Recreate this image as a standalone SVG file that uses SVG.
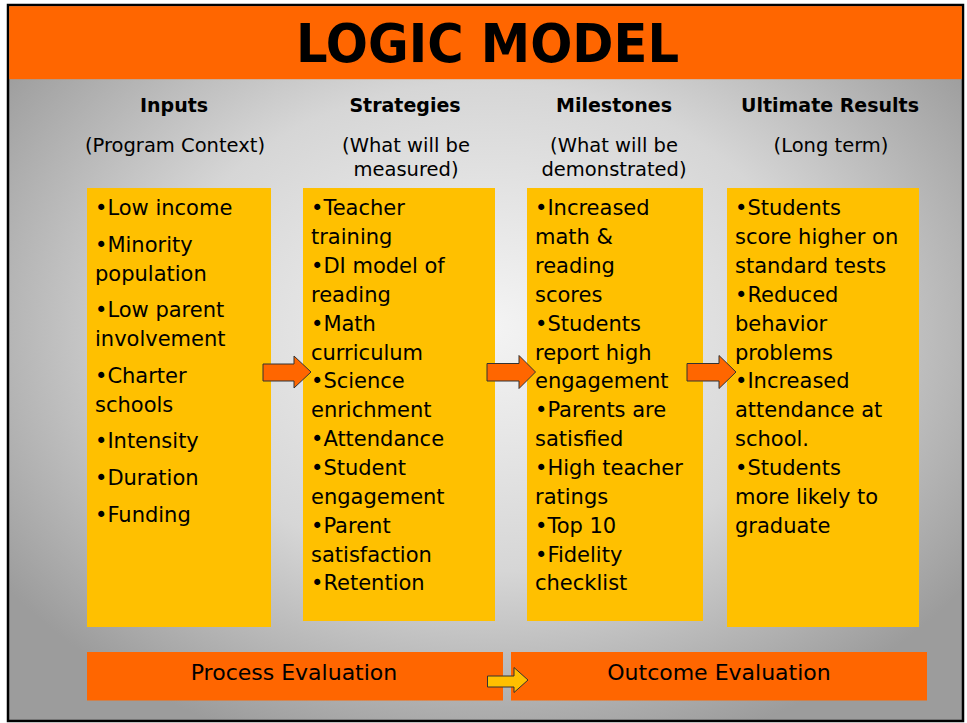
<svg xmlns="http://www.w3.org/2000/svg" width="967" height="723" viewBox="0 0 967 723">
  <defs>
    <radialGradient id="bg" cx="50%" cy="45%" r="62%">
      <stop offset="0" stop-color="#f4f4f4"/>
      <stop offset="0.55" stop-color="#d6d6d6"/>
      <stop offset="1" stop-color="#9c9c9c"/>
    </radialGradient>
  </defs>
  <style>
    .hdr { font-family: "DejaVu Sans", sans-serif; font-weight: bold; font-size: 19px; fill: #000; text-anchor: middle; }
    .sub { font-family: "DejaVu Sans", sans-serif; font-size: 19.5px; fill: #000; text-anchor: middle; }
    .body { font-family: "DejaVu Sans", sans-serif; font-size: 21px; fill: #000; }
    .box { fill: #FFC000; }
    .eval { fill: #FF6600; }
    .evtxt { font-family: "DejaVu Sans", sans-serif; font-size: 22px; fill: #000; text-anchor: middle; }
    .arrow { fill: #FF6600; stroke: #333; stroke-width: 1; }
    .arrowY { fill: #FFC000; stroke: #333; stroke-width: 1; }
  </style>

  <rect x="8" y="5" width="955" height="716" fill="url(#bg)" stroke="#000" stroke-width="2.5"/>

  <g id="title">
    <rect x="9.2" y="6.2" width="952.6" height="73" fill="#FF6600"/>
    <text x="487.5" y="61.5" font-family="DejaVu Sans, sans-serif" font-weight="bold" font-size="54" text-anchor="middle" textLength="383" lengthAdjust="spacingAndGlyphs">LOGIC MODEL</text>
  </g>

  <g id="inputs">
    <text class="hdr" x="174" y="111.5">Inputs</text>
    <text class="sub" x="175" y="151.5">(Program Context)</text>
    <rect class="box" x="87" y="188" width="184" height="439"/>
    <text class="body" x="95">
      <tspan x="95" y="215">•Low income</tspan>
      <tspan x="95" y="251.5">•Minority</tspan>
      <tspan x="95" y="280.5">population</tspan>
      <tspan x="95" y="317">•Low parent</tspan>
      <tspan x="95" y="346">involvement</tspan>
      <tspan x="95" y="382.5">•Charter</tspan>
      <tspan x="95" y="411.5">schools</tspan>
      <tspan x="95" y="448">•Intensity</tspan>
      <tspan x="95" y="485">•Duration</tspan>
      <tspan x="95" y="521.5">•Funding</tspan>
    </text>
  </g>

  <g id="strategies">
    <text class="hdr" x="405" y="111.5">Strategies</text>
    <text class="sub" x="406" y="151.5">(What will be</text>
    <text class="sub" x="406" y="176">measured)</text>
    <rect class="box" x="303" y="188" width="192" height="433"/>
    <text class="body">
      <tspan x="311" y="215">•Teacher</tspan>
      <tspan x="311" y="244">training</tspan>
      <tspan x="311" y="273">•DI model of</tspan>
      <tspan x="311" y="302">reading</tspan>
      <tspan x="311" y="330.5">•Math</tspan>
      <tspan x="311" y="359.5">curriculum</tspan>
      <tspan x="311" y="388">•Science</tspan>
      <tspan x="311" y="417">enrichment</tspan>
      <tspan x="311" y="446">•Attendance</tspan>
      <tspan x="311" y="475">•Student</tspan>
      <tspan x="311" y="504">engagement</tspan>
      <tspan x="311" y="533">•Parent</tspan>
      <tspan x="311" y="561.5">satisfaction</tspan>
      <tspan x="311" y="590">•Retention</tspan>
    </text>
  </g>

  <g id="milestones">
    <text class="hdr" x="614" y="111.5">Milestones</text>
    <text class="sub" x="614" y="151.5">(What will be</text>
    <text class="sub" x="614" y="176">demonstrated)</text>
    <rect class="box" x="527" y="188" width="176" height="433"/>
    <text class="body">
      <tspan x="535" y="215">•Increased</tspan>
      <tspan x="535" y="244">math &amp;</tspan>
      <tspan x="535" y="273">reading</tspan>
      <tspan x="535" y="302">scores</tspan>
      <tspan x="535" y="330.5">•Students</tspan>
      <tspan x="535" y="359.5">report high</tspan>
      <tspan x="535" y="388">engagement</tspan>
      <tspan x="535" y="417">•Parents are</tspan>
      <tspan x="535" y="446">satisfied</tspan>
      <tspan x="535" y="475">•High teacher</tspan>
      <tspan x="535" y="504">ratings</tspan>
      <tspan x="535" y="533">•Top 10</tspan>
      <tspan x="535" y="561.5">•Fidelity</tspan>
      <tspan x="535" y="590">checklist</tspan>
    </text>
  </g>

  <g id="results">
    <text class="hdr" x="830" y="111.5">Ultimate Results</text>
    <text class="sub" x="831" y="151.5">(Long term)</text>
    <rect class="box" x="727" y="188" width="192" height="439"/>
    <text class="body">
      <tspan x="735" y="215">•Students</tspan>
      <tspan x="735" y="244">score higher on</tspan>
      <tspan x="735" y="273">standard tests</tspan>
      <tspan x="735" y="302">•Reduced</tspan>
      <tspan x="735" y="330.5">behavior</tspan>
      <tspan x="735" y="359.5">problems</tspan>
      <tspan x="735" y="388">•Increased</tspan>
      <tspan x="735" y="417">attendance at</tspan>
      <tspan x="735" y="446">school.</tspan>
      <tspan x="735" y="475">•Students</tspan>
      <tspan x="735" y="504">more likely to</tspan>
      <tspan x="735" y="533">graduate</tspan>
    </text>
  </g>

  <g id="process-evaluation">
    <rect class="eval" x="87" y="652" width="416" height="48.5"/>
    <text class="evtxt" x="294" y="680">Process Evaluation</text>
  </g>

  <g id="outcome-evaluation">
    <rect class="eval" x="511" y="652" width="416" height="48.5"/>
    <text class="evtxt" x="719" y="680">Outcome Evaluation</text>
  </g>

  <g id="connectors">
    <path class="arrow" d="M263,364 H294 V356 L311,372 L294,388 V381 H263 Z"/>
    <path class="arrow" d="M487,363.5 H519 V355.5 L535.5,372 L519,388.5 V381 H487 Z"/>
    <path class="arrow" d="M687,363.5 H719 V355.5 L736,372 L719,388.5 V381 H687 Z"/>
    <path class="arrowY" d="M487.5,676 H514 V667.5 L528,680 L514,692.5 V687 H487.5 Z"/>
  </g>
</svg>
